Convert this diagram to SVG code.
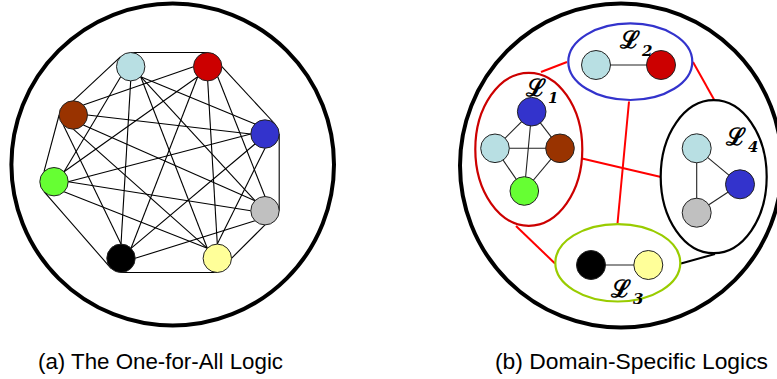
<svg xmlns="http://www.w3.org/2000/svg" width="777" height="379" viewBox="0 0 777 379">
<style>
.ring{fill:none;stroke:#000;stroke-width:4}
.e{stroke:#000;stroke-width:1.1;fill:none}
.ie{stroke:#222;stroke-width:1.1;fill:none}
.rl{stroke:#ff0000;stroke-width:2;fill:none}
.bl{stroke:#000;stroke-width:2;fill:none}
.n{stroke:#222;stroke-width:1}
.lb{fill:#b8dfe3}.rd{fill:#cc0000}.br{fill:#993300}.bu{fill:#3333cc}
.gr{fill:#66ff33}.gy{fill:#c0c0c0}.bk{fill:#000}.ye{fill:#ffff99}
.dom{fill:none;stroke-width:2.2}
.lab{font-family:"DejaVu Serif",serif;font-size:24px;font-weight:bold;fill:#000}
.sub{font-family:"DejaVu Serif",serif;font-size:15px;font-style:italic;font-weight:bold}
.cap{font-family:"Liberation Sans",Arial,sans-serif;font-size:22px;fill:#000}
</style>

<g id="left-frame"><ellipse class="ring" cx="172.7" cy="164.5" rx="161.3" ry="161"/></g>

<g id="left-connectors">
<line class="e" x1="130.7" y1="52.5" x2="207.7" y2="52.5"/>
<line class="e" x1="221.9" y1="66.7" x2="275" y2="124"/>
<line class="e" x1="279.2" y1="134" x2="279.2" y2="210.7"/>
<line class="e" x1="265" y1="224.9" x2="231.5" y2="258.3"/>
<line class="e" x1="121" y1="272.5" x2="217.3" y2="272.5"/>
<line class="e" x1="111" y1="268.3" x2="44" y2="191.7"/>
<line class="e" x1="44" y1="171.7" x2="59.1" y2="115"/>
<line class="e" x1="73.3" y1="100.8" x2="120.7" y2="56.7"/>
<line class="e" x1="140.7" y1="76.7" x2="255" y2="124"/>
<line class="e" x1="120.7" y1="76.7" x2="64" y2="171.7"/>
<line class="e" x1="140.7" y1="76.7" x2="255" y2="200.7"/>
<line class="e" x1="130.7" y1="80.9" x2="121" y2="244.1"/>
<line class="e" x1="140.7" y1="76.7" x2="207.3" y2="248.3"/>
<line class="e" x1="193.5" y1="66.7" x2="83.3" y2="105"/>
<line class="e" x1="197.7" y1="76.7" x2="64" y2="171.7"/>
<line class="e" x1="217.7" y1="76.7" x2="265" y2="196.5"/>
<line class="e" x1="197.7" y1="76.7" x2="131" y2="248.3"/>
<line class="e" x1="207.7" y1="80.9" x2="217.3" y2="244.1"/>
<line class="e" x1="87.5" y1="115" x2="250.8" y2="134"/>
<line class="e" x1="83.3" y1="125" x2="255" y2="200.7"/>
<line class="e" x1="63.3" y1="125" x2="121" y2="244.1"/>
<line class="e" x1="73.3" y1="129.2" x2="207.3" y2="248.3"/>
<line class="e" x1="250.8" y1="134" x2="68.2" y2="181.7"/>
<line class="e" x1="255" y1="144" x2="131" y2="248.3"/>
<line class="e" x1="265" y1="148.2" x2="217.3" y2="244.1"/>
<line class="e" x1="68.2" y1="181.7" x2="250.8" y2="210.7"/>
<line class="e" x1="64" y1="191.7" x2="207.3" y2="248.3"/>
<line class="e" x1="255" y1="220.7" x2="135.2" y2="258.3"/>
</g>

<g id="left-nodes">
<g id="a-lightblue"><circle class="n lb" cx="130.7" cy="66.7" r="14.2"/></g>
<g id="a-red"><circle class="n rd" cx="207.7" cy="66.7" r="14.2"/></g>
<g id="a-brown"><circle class="n br" cx="73.3" cy="115" r="14.2"/></g>
<g id="a-blue"><circle class="n bu" cx="265" cy="134" r="14.2"/></g>
<g id="a-green"><circle class="n gr" cx="54" cy="181.7" r="14.2"/></g>
<g id="a-gray"><circle class="n gy" cx="265" cy="210.7" r="14.2"/></g>
<g id="a-black"><circle class="n bk" cx="121" cy="258.3" r="14.2"/></g>
<g id="a-yellow"><circle class="n ye" cx="217.3" cy="258.3" r="14.2"/></g>
</g>

<g id="right-frame"><ellipse class="ring" cx="621" cy="165.5" rx="161" ry="162"/></g>

<g id="right-connectors">
<line class="rl" x1="541" y1="72" x2="567" y2="62"/>
<line class="rl" x1="693" y1="62" x2="714" y2="99.5"/>
<line class="rl" x1="629" y1="101.5" x2="617.5" y2="223.5"/>
<line class="rl" x1="582" y1="158.5" x2="661" y2="177"/>
<line class="rl" x1="516" y1="226" x2="555" y2="263.5"/>
<line class="bl" x1="681" y1="263.5" x2="715" y2="254"/>
<line class="ie" x1="596" y1="65" x2="661" y2="65"/>
<line class="ie" x1="531.7" y1="111.7" x2="495" y2="148.3"/>
<line class="ie" x1="531.7" y1="111.7" x2="560" y2="148.3"/>
<line class="ie" x1="531.7" y1="111.7" x2="524.3" y2="191"/>
<line class="ie" x1="495" y1="148.3" x2="560" y2="148.3"/>
<line class="ie" x1="495" y1="148.3" x2="524.3" y2="191"/>
<line class="ie" x1="560" y1="148.3" x2="524.3" y2="191"/>
<line class="ie" x1="696.7" y1="148.3" x2="740" y2="184.3"/>
<line class="ie" x1="696.7" y1="148.3" x2="696.7" y2="212.7"/>
<line class="ie" x1="740" y1="184.3" x2="696.7" y2="212.7"/>
<line class="ie" x1="591" y1="265" x2="648.3" y2="265"/>
</g>

<g id="L1">
<ellipse class="dom" stroke="#cc0000" cx="528.8" cy="149.3" rx="53.5" ry="76.5"/>
<circle class="n bu" cx="531.7" cy="111.7" r="14.3"/>
<circle class="n lb" cx="495" cy="148.3" r="14.3"/>
<circle class="n br" cx="560" cy="148.3" r="14.3"/>
<circle class="n gr" cx="524.3" cy="191" r="14.3"/>
<text class="lab" x="526" y="96">ℒ</text><text class="lab sub" x="548" y="103">1</text>
</g>

<g id="L2">
<ellipse class="dom" stroke="#3333cc" cx="630.3" cy="61.7" rx="62" ry="38.3"/>
<circle class="n lb" cx="596" cy="65" r="14.5"/>
<circle class="n rd" cx="661" cy="65" r="14.5"/>
<text class="lab" x="620" y="48">ℒ</text><text class="lab sub" x="642" y="56">2</text>
</g>

<g id="L3">
<ellipse class="dom" stroke="#99cc00" cx="617.8" cy="262.8" rx="62.5" ry="38.7"/>
<circle class="n bk" cx="591" cy="265" r="14.5"/>
<circle class="n ye" cx="648.3" cy="265" r="14.5"/>
<text class="lab" x="611" y="297">ℒ</text><text class="lab sub" x="633" y="304">3</text>
</g>

<g id="L4">
<ellipse class="dom" stroke="#000" cx="713.7" cy="176.7" rx="53" ry="76.5"/>
<circle class="n lb" cx="696.7" cy="148.3" r="14.5"/>
<circle class="n bu" cx="740" cy="184.3" r="14.5"/>
<circle class="n gy" cx="696.7" cy="212.7" r="14.5"/>
<text class="lab" x="726" y="145">ℒ</text><text class="lab sub" x="748" y="152">4</text>
</g>

<g id="captions">
<text class="cap" x="38" y="369" textLength="245" lengthAdjust="spacingAndGlyphs">(a) The One-for-All Logic</text>
<text class="cap" x="495" y="369" textLength="273" lengthAdjust="spacingAndGlyphs">(b) Domain-Specific Logics</text>
</g>
</svg>
